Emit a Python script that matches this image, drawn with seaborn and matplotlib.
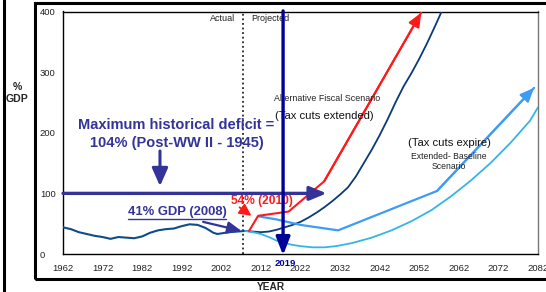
import matplotlib

matplotlib.use("Agg")

import matplotlib.pyplot as plt
import seaborn as sns
from matplotlib.lines import Line2D
from matplotlib.patches import Rectangle

# actual debt held by the public, % of GDP
hist_years = [1962, 1964, 1966, 1968, 1970, 1972, 1974, 1976, 1978, 1980, 1982, 1984,
              1986, 1988, 1990, 1992, 1994, 1996, 1998, 2000, 2001, 2002, 2004, 2006, 2008]
hist_vals = [44, 41, 36, 33, 30, 28, 25, 28, 27, 26, 29, 35,
             39, 41, 42, 46, 49, 48, 43, 35, 33, 34, 36, 37, 38]

# alternative fiscal scenario (navy)
alt_years = [2008, 2010, 2012, 2014, 2016, 2018, 2020, 2022, 2024, 2026, 2028, 2030, 2032,
             2034, 2036, 2038, 2040, 2042, 2044, 2046, 2048, 2050, 2052, 2054, 2056, 2058]
alt_vals = [38, 37, 36, 37, 40, 44, 48, 53, 60, 68, 77, 87, 98,
            110, 128, 150, 172, 196, 222, 250, 276, 298, 322, 348, 376, 405]

# tax cuts extended (red)
red_years = [2009, 2011.3, 2019, 2028, 2052.5]
red_vals = [38, 63, 70, 120, 398]

# tax cuts expire (mid blue)
exp_years = [2011.5, 2016, 2022, 2031.5, 2056.5, 2081]
exp_vals = [62, 57, 48, 39, 104, 274]

# extended-baseline scenario (light blue)
base_years = [2008, 2010, 2012, 2014, 2016, 2018, 2020, 2022, 2025, 2028, 2031, 2035,
              2040, 2045, 2050, 2055, 2060, 2065, 2070, 2075, 2080, 2082]
base_vals = [38, 36, 33, 28, 22, 18, 15, 13, 11, 11, 13, 18,
             27, 39, 54, 72, 95, 121, 150, 183, 220, 242]

x_ticks = list(range(1962, 2083, 10))
y_ticks = [0, 100, 200, 300, 400]

NAVY = "#0a3a78"
HIST = "#0f4c8a"
RED = "#ff1a1a"
MID = "#3d9cf5"
LIGHT = "#35b5e5"
ANN = "#333399"
DEEP = "#000099"

sns.set_theme(style="white")
plt.rcParams["font.family"] = ["Liberation Sans", "DejaVu Sans"]

fig = plt.figure(figsize=(5.46, 2.92), dpi=100)
ax = fig.add_axes([63 / 546, 38 / 292, 475 / 546, 242.5 / 292])

sns.lineplot(x=hist_years, y=hist_vals, ax=ax, color=HIST, lw=1.5, estimator=None, sort=False, zorder=3)
sns.lineplot(x=alt_years, y=alt_vals, ax=ax, color=NAVY, lw=1.3, estimator=None, sort=False, zorder=3)
sns.lineplot(x=base_years, y=base_vals, ax=ax, color=LIGHT, lw=1.3, estimator=None, sort=False, zorder=3)
sns.lineplot(x=exp_years, y=exp_vals, ax=ax, color=MID, lw=1.6, estimator=None, sort=False, zorder=3)
sns.lineplot(x=red_years, y=red_vals, ax=ax, color=RED, lw=1.5, estimator=None, sort=False, zorder=3)

# arrow heads at the end of the red and mid-blue projections
for xs, ys, c in [(red_years, red_vals, RED), (exp_years, exp_vals, MID)]:
    ax.annotate("", xy=(xs[-1], ys[-1]), xytext=(xs[-2], ys[-2]),
                arrowprops=dict(arrowstyle="-|>,head_length=0.7,head_width=0.3", color=c, lw=1.5,
                                shrinkA=0, shrinkB=0), annotation_clip=False, zorder=3)

ax.set_xlim(1962, 2082)
ax.set_ylim(0, 400)
ax.set_xticks(x_ticks)
ax.set_yticks(y_ticks)
ax.tick_params(axis="both", direction="in", length=5, width=1, color="black",
               labelsize=6.8, labelcolor="#222222")
ax.tick_params(axis="x", pad=7)
ax.tick_params(axis="y", pad=16.6)
for lbl in ax.get_yticklabels():
    lbl.set_ha("left")
ax.set_xlabel("")
ax.set_ylabel("")
for side in ["left", "bottom", "top"]:
    ax.spines[side].set_color("black")
    ax.spines[side].set_linewidth(1.0)
ax.spines["right"].set_color("#777777")
ax.spines["right"].set_linewidth(1.0)

# actual / projected divider
ax.axvline(2007.5, color="black", ls=(0, (1.2, 1.8)), lw=1.1, zorder=2)
ax.text(2005.5, 385, "Actual", ha="right", va="baseline", fontsize=6.5, color="#222222")
ax.text(2009.5, 385, "Projected", ha="left", va="baseline", fontsize=6.5, color="#222222")

# max historical deficit line
ax.annotate("", xy=(2028.6, 100), xytext=(1962, 100),
            arrowprops=dict(arrowstyle="-|>,head_length=0.85,head_width=0.35", color=ANN, lw=2.4,
                            shrinkA=0, shrinkB=0), zorder=5)
ax.text(1990.7, 198, "Maximum historical deficit =\n104% (Post-WW II - 1945)", ha="center",
        va="center", fontsize=10.5, fontweight="bold", color=ANN, linespacing=1.35, zorder=5)
ax.annotate("", xy=(1986.5, 112), xytext=(1986.5, 170),
            arrowprops=dict(arrowstyle="-|>,head_length=0.9,head_width=0.4", color=ANN, lw=2.2,
                            shrinkA=0, shrinkB=0), zorder=5)

# 41% GDP (2008)
t41 = ax.text(1990.8, 64, "41% GDP (2008)", ha="center", va="baseline", fontsize=9.4,
              fontweight="bold", color=ANN, zorder=5)
ax.annotate("", xy=(2007.1, 38), xytext=(1997.4, 53),
            arrowprops=dict(arrowstyle="-|>,head_length=0.7,head_width=0.3", color=ANN, lw=1.6,
                            shrinkA=0, shrinkB=0), zorder=5)

# 54% (2010)
ax.text(2004.4, 82, "54% (2010)", ha="left", va="baseline", fontsize=8.6, fontweight="bold",
        color=RED, zorder=5)
ax.annotate("", xy=(2009.6, 63), xytext=(2006.6, 77),
            arrowprops=dict(arrowstyle="-|>,head_length=0.6,head_width=0.3", color=RED, lw=1.3,
                            shrinkA=0, shrinkB=0), zorder=5)

# scenario labels
ax.text(2015.3, 252, "Alternative Fiscal Scenario", ha="left", va="baseline", fontsize=6.4,
        color="#222222", zorder=4)
ax.text(2015.6, 223, "(Tax cuts extended)", ha="left", va="baseline", fontsize=8.1,
        color="#111111", zorder=4)
ax.text(2049.2, 178, "(Tax cuts expire)", ha="left", va="baseline", fontsize=8.1,
        color="#111111", zorder=4)
ax.text(2059.5, 153, "Extended- Baseline\nScenario", ha="center", va="center", fontsize=6.2,
        color="#222222", linespacing=1.15, zorder=4)

# 2019 marker
ax.annotate("", xy=(2017.6, -2), xytext=(2017.6, 401),
            arrowprops=dict(arrowstyle="-|>,head_length=0.9,head_width=0.35", color=DEEP, lw=2.4,
                            shrinkA=0, shrinkB=0), annotation_clip=False, zorder=7)
ax.text(2018.1, -15, "2019", ha="center", va="center", fontsize=6.8, fontweight="bold",
        color=DEEP, zorder=7)

# outer frame and axis titles
fig.add_artist(Rectangle((34.5 / 546, 1 - 279 / 292), 0.99, (279 - 3) / 292, fill=False,
                         lw=2.2, ec="black", transform=fig.transFigure))
fig.add_artist(Line2D([4 / 546, 4 / 546], [0, 1], lw=2.2, color="black", transform=fig.transFigure))
fig.text(17 / 546, 1 - 93 / 292, "%\nGDP", ha="center", va="center", fontsize=7.6,
         fontweight="bold", linespacing=1.3)
fig.text(271 / 546, 1 - 287 / 292, "YEAR", ha="center", va="center", fontsize=7.3,
         fontweight="bold")

# underline for 41% label
fig.canvas.draw()
bb = t41.get_window_extent(fig.canvas.get_renderer())
inv = fig.transFigure.inverted()
(x0, y0), (x1, _) = inv.transform([(bb.x0, bb.y0 - 1), (bb.x1, bb.y1)])
fig.add_artist(Line2D([x0, x1], [y0, y0], lw=1.0, color=ANN, transform=fig.transFigure))

fig.savefig("out.png", dpi=100)
